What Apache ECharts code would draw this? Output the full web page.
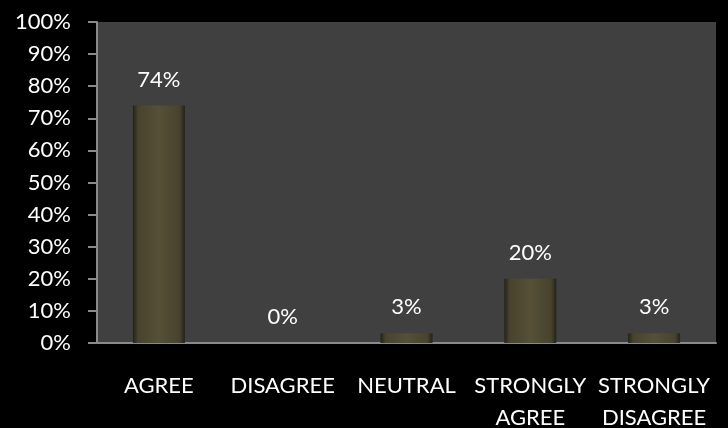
<!DOCTYPE html>
<html><head><meta charset="utf-8">
<script src="https://cdn.jsdelivr.net/npm/echarts@6/dist/echarts.min.js"></script>
<style>html,body{margin:0;padding:0;background:#000;}#c{width:728px;height:428px;}</style>
</head><body><div id="c"></div>
<script>
const categories = ['AGREE', 'DISAGREE', 'NEUTRAL', 'STRONGLY\nAGREE', 'STRONGLY\nDISAGREE'];
const values = [74, 0, 3, 20, 3];
const yTicks = [0, 10, 20, 30, 40, 50, 60, 70, 80, 90, 100];

const FONT = 'Lato';
const chart = echarts.init(document.getElementById('c'), null, {renderer: 'canvas'});
chart.setOption({
  backgroundColor: '#000000',
  animation: false,
  grid: {left: 97, right: 12, top: 22, bottom: 85, show: true, backgroundColor: '#404040', borderWidth: 0,
         containLabel: false, outerBoundsMode: 'none'},
  xAxis: {
    type: 'category', data: categories,
    axisLine: {lineStyle: {color: '#8a8a8a', width: 2}},
    axisTick: {show: false},
    axisLabel: {color: '#ffffff', fontFamily: FONT, fontSize: 22, lineHeight: 32, margin: 27, interval: 0}
  },
  yAxis: {
    type: 'value', min: yTicks[0], max: yTicks[yTicks.length - 1], interval: 10,
    axisLine: {show: true, lineStyle: {color: '#8a8a8a', width: 2}},
    axisTick: {show: true, length: 9, lineStyle: {color: '#8a8a8a', width: 2}},
    splitLine: {show: false},
    axisLabel: {color: '#ffffff', fontFamily: FONT, fontSize: 22, margin: 26, formatter: v => v + '%'}
  },
  series: [{
    type: 'bar', data: values, barWidth: '42%',
    itemStyle: {
      color: new echarts.graphic.LinearGradient(0, 0, 1, 0, [
        {offset: 0, color: '#24221a'},
        {offset: 0.1, color: '#47432d'},
        {offset: 0.5, color: '#555036'},
        {offset: 0.9, color: '#47432d'},
        {offset: 1, color: '#24221a'}
      ])
    },
    label: {show: true, position: 'top', distance: 15, color: '#ffffff', fontFamily: FONT, fontSize: 22, formatter: p => p.value + '%'}
  }]
});
</script></body></html>
